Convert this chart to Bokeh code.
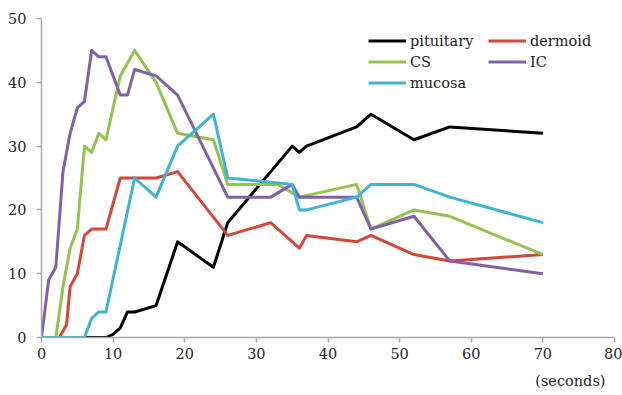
from bokeh.plotting import figure
from bokeh.models import Range1d, SingleIntervalTicker, Legend, LegendItem, Title
from bokeh.embed import file_html
from bokeh.resources import INLINE

# ---- data (seconds vs value) ----
pit_x = [0, 9, 10, 11, 12, 13, 16, 19, 24, 26, 35, 36, 37, 44, 46, 52, 57, 70]
pit_y = [0, 0, 0.5, 1.5, 4, 4, 5, 15, 11, 18, 30, 29, 30, 33, 35, 31, 33, 32]

der_x = [0, 2.5, 3.5, 4, 5, 6, 7, 9, 11, 13, 16, 19, 26, 32, 36, 37, 44, 46, 52, 57, 70]
der_y = [0, 0, 2, 8, 10, 16, 17, 17, 25, 25, 25, 26, 16, 18, 14, 16, 15, 16, 13, 12, 13]

cs_x = [0, 2, 3, 4, 5, 6, 7, 8, 9, 11, 13, 16, 19, 24, 26, 33, 36, 44, 46, 52, 57, 70]
cs_y = [0, 0, 8, 14, 17, 30, 29, 32, 31, 41, 45, 40, 32, 31, 24, 24, 22, 24, 17, 20, 19, 13]

ic_x = [0, 1, 2, 3, 4, 5, 6, 7, 8, 9, 11, 12, 13, 16, 19, 26, 32, 35, 36, 44, 46, 52, 57, 70]
ic_y = [0, 9, 11, 26, 32, 36, 37, 45, 44, 44, 38, 38, 42, 41, 38, 22, 22, 24, 22, 22, 17, 19, 12, 10]

muc_x = [0, 6, 7, 8, 9, 13, 16, 19, 24, 26, 35, 36, 37, 44, 46, 52, 57, 70]
muc_y = [0, 0, 3, 4, 4, 25, 22, 30, 35, 25, 24, 20, 20, 22, 24, 24, 22, 18]

names = ["pituitary", "dermoid", "CS", "IC", "mucosa"]
colors = ["#000000", "#d4453a", "#95c24e", "#8061a8", "#3cb4d2"]

x_ticks_interval = 10
y_ticks_interval = 10

FONT = "DejaVu Serif"
FS = "14.5px"

p = figure(frame_width=573, frame_height=319,
           min_border_left=41, min_border_right=8, min_border_top=18, min_border_bottom=20,
           x_range=Range1d(0, 80), y_range=Range1d(0, 50),
           output_backend="svg", toolbar_location=None)

p.xgrid.visible = False
p.ygrid.visible = False
p.outline_line_color = None
p.background_fill_color = "white"
p.border_fill_color = "white"

for ax in (p.xaxis[0], p.yaxis[0]):
    ax.axis_line_color = "#a6a6a6"
    ax.axis_line_width = 1.5
    ax.major_tick_line_color = "#a6a6a6"
    ax.major_tick_line_width = 1.5
    ax.major_tick_out = 5
    ax.major_tick_in = 0
    ax.minor_tick_line_color = None
    ax.major_label_text_font = FONT
    ax.major_label_text_font_size = FS
    ax.major_label_text_color = "#262626"

p.xaxis[0].ticker = SingleIntervalTicker(interval=x_ticks_interval)
p.yaxis[0].ticker = SingleIntervalTicker(interval=y_ticks_interval)
p.xaxis[0].major_label_standoff = 5
p.yaxis[0].major_label_standoff = 10

series = [(pit_x, pit_y), (der_x, der_y), (cs_x, cs_y), (ic_x, ic_y), (muc_x, muc_y)]
rends = []
for (xs, ys), c in zip(series, colors):
    r = p.line(xs, ys, line_color=c, line_width=3, line_join="round")
    rends.append(r)

def mk_legend(idx, loc):
    lg = Legend(items=[LegendItem(label=names[i], renderers=[rends[i]]) for i in idx],
                location=loc, orientation="vertical",
                glyph_width=38, glyph_height=21, label_height=21, label_width=40,
                label_standoff=4, spacing=0, padding=0, margin=0,
                border_line_color=None, background_fill_alpha=0,
                label_text_font=FONT, label_text_font_size=FS,
                label_text_color="#1a1a1a")
    return lg

p.add_layout(mk_legend([0, 2, 4], (327, 244)))
p.add_layout(mk_legend([1, 3], (447, 265)))

p.add_layout(Title(text="(seconds)", align="right", offset=9, standoff=19,
                   text_font=FONT, text_font_size=FS, text_font_style="normal",
                   text_color="#262626"), "below")

open("out.html", "w").write(file_html(p, INLINE))
